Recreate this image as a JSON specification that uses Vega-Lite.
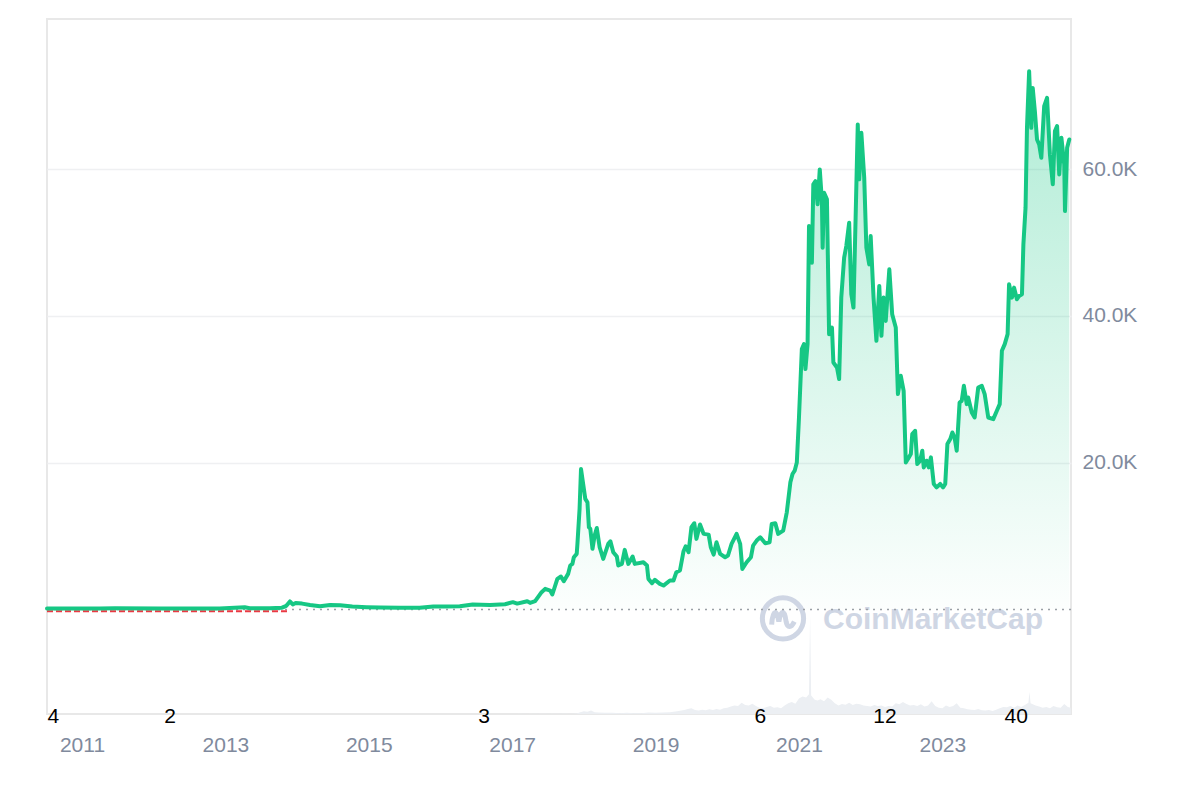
{
  "$schema": "https://vega.github.io/schema/vega-lite/v6.json",
  "width": 1024,
  "height": 695,
  "autosize": {"type": "none"},
  "padding": {"left": 47, "top": 19, "right": 129, "bottom": 86},
  "background": "white",
  "config": {"view": {"stroke": "#e8e8e8", "strokeWidth": 2}, "font": "Liberation Sans"},
  "datasets": {
    "price": [
      {"year": 2010.512, "price": 150}, {"year": 2011.25, "price": 150}, {"year": 2011.46, "price": 160}, {"year": 2012.09, "price": 150},
      {"year": 2012.92, "price": 150}, {"year": 2013.27, "price": 300}, {"year": 2013.34, "price": 180}, {"year": 2013.62, "price": 170},
      {"year": 2013.79, "price": 250}, {"year": 2013.85, "price": 500}, {"year": 2013.90, "price": 1090}, {"year": 2013.94, "price": 700},
      {"year": 2013.98, "price": 880}, {"year": 2014.07, "price": 800}, {"year": 2014.18, "price": 600}, {"year": 2014.32, "price": 450},
      {"year": 2014.46, "price": 620}, {"year": 2014.60, "price": 590}, {"year": 2014.77, "price": 400}, {"year": 2014.97, "price": 310},
      {"year": 2015.16, "price": 260}, {"year": 2015.44, "price": 240}, {"year": 2015.71, "price": 240}, {"year": 2015.90, "price": 420},
      {"year": 2016.06, "price": 400}, {"year": 2016.27, "price": 430}, {"year": 2016.45, "price": 680}, {"year": 2016.69, "price": 610},
      {"year": 2016.90, "price": 720}, {"year": 2017.01, "price": 1000}, {"year": 2017.07, "price": 800}, {"year": 2017.21, "price": 1130},
      {"year": 2017.25, "price": 900}, {"year": 2017.32, "price": 1130}, {"year": 2017.41, "price": 2360}, {"year": 2017.46, "price": 2810},
      {"year": 2017.53, "price": 2580}, {"year": 2017.56, "price": 2040}, {"year": 2017.63, "price": 4170}, {"year": 2017.68, "price": 4490},
      {"year": 2017.72, "price": 3850}, {"year": 2017.78, "price": 4850}, {"year": 2017.81, "price": 5990}, {"year": 2017.84, "price": 6210},
      {"year": 2017.86, "price": 7120}, {"year": 2017.90, "price": 7580}, {"year": 2017.91, "price": 8940}, {"year": 2017.94, "price": 13700},
      {"year": 2017.96, "price": 19140}, {"year": 2017.99, "price": 17100}, {"year": 2018.02, "price": 15060}, {"year": 2018.05, "price": 14600},
      {"year": 2018.07, "price": 11200}, {"year": 2018.09, "price": 10980}, {"year": 2018.12, "price": 8260}, {"year": 2018.15, "price": 10070},
      {"year": 2018.18, "price": 11110}, {"year": 2018.22, "price": 8480}, {"year": 2018.27, "price": 6900}, {"year": 2018.34, "price": 8940},
      {"year": 2018.37, "price": 9290}, {"year": 2018.41, "price": 7800}, {"year": 2018.46, "price": 7210}, {"year": 2018.48, "price": 5990},
      {"year": 2018.53, "price": 6210}, {"year": 2018.57, "price": 8120}, {"year": 2018.62, "price": 6210}, {"year": 2018.68, "price": 7210},
      {"year": 2018.71, "price": 6210}, {"year": 2018.83, "price": 6440}, {"year": 2018.88, "price": 5990}, {"year": 2018.90, "price": 4170},
      {"year": 2018.95, "price": 3580}, {"year": 2018.99, "price": 4040}, {"year": 2019.06, "price": 3490}, {"year": 2019.11, "price": 3260},
      {"year": 2019.20, "price": 3950}, {"year": 2019.25, "price": 3950}, {"year": 2019.29, "price": 5080}, {"year": 2019.34, "price": 5310},
      {"year": 2019.39, "price": 7940}, {"year": 2019.42, "price": 8620}, {"year": 2019.46, "price": 7800}, {"year": 2019.50, "price": 11200},
      {"year": 2019.54, "price": 11750}, {"year": 2019.57, "price": 9620}, {"year": 2019.62, "price": 11570}, {"year": 2019.67, "price": 10300},
      {"year": 2019.74, "price": 10200}, {"year": 2019.77, "price": 8480}, {"year": 2019.81, "price": 7480}, {"year": 2019.85, "price": 9160},
      {"year": 2019.90, "price": 7580}, {"year": 2019.97, "price": 7120}, {"year": 2020.01, "price": 7350}, {"year": 2020.06, "price": 8940},
      {"year": 2020.13, "price": 10300}, {"year": 2020.18, "price": 8940}, {"year": 2020.21, "price": 5530}, {"year": 2020.27, "price": 6440},
      {"year": 2020.33, "price": 7120}, {"year": 2020.36, "price": 8710}, {"year": 2020.41, "price": 9390}, {"year": 2020.46, "price": 9840},
      {"year": 2020.53, "price": 9020}, {"year": 2020.59, "price": 9160}, {"year": 2020.62, "price": 11660}, {"year": 2020.67, "price": 11750},
      {"year": 2020.71, "price": 10300}, {"year": 2020.78, "price": 10750}, {"year": 2020.83, "price": 13240}, {"year": 2020.88, "price": 17320},
      {"year": 2020.91, "price": 18460}, {"year": 2020.94, "price": 18910}, {"year": 2020.97, "price": 20040}, {"year": 2021.00, "price": 26160},
      {"year": 2021.04, "price": 35470}, {"year": 2021.07, "price": 36150}, {"year": 2021.09, "price": 32750}, {"year": 2021.12, "price": 36150},
      {"year": 2021.14, "price": 52240}, {"year": 2021.18, "price": 47250}, {"year": 2021.20, "price": 57920}, {"year": 2021.23, "price": 58370},
      {"year": 2021.26, "price": 55200}, {"year": 2021.29, "price": 59960}, {"year": 2021.32, "price": 55640}, {"year": 2021.33, "price": 49290},
      {"year": 2021.35, "price": 56770}, {"year": 2021.39, "price": 55870}, {"year": 2021.42, "price": 37510}, {"year": 2021.46, "price": 38420},
      {"year": 2021.48, "price": 33650}, {"year": 2021.53, "price": 32970}, {"year": 2021.56, "price": 31390}, {"year": 2021.59, "price": 42490},
      {"year": 2021.63, "price": 47930}, {"year": 2021.66, "price": 49520}, {"year": 2021.70, "price": 52700}, {"year": 2021.73, "price": 42950},
      {"year": 2021.76, "price": 41130}, {"year": 2021.79, "price": 53380}, {"year": 2021.82, "price": 66080}, {"year": 2021.84, "price": 58600},
      {"year": 2021.87, "price": 64950}, {"year": 2021.91, "price": 58830}, {"year": 2021.94, "price": 49290}, {"year": 2021.98, "price": 47020},
      {"year": 2022.00, "price": 50880}, {"year": 2022.04, "price": 42490}, {"year": 2022.08, "price": 36600}, {"year": 2022.12, "price": 44080},
      {"year": 2022.15, "price": 37280}, {"year": 2022.18, "price": 42490}, {"year": 2022.21, "price": 39320}, {"year": 2022.26, "price": 46340},
      {"year": 2022.30, "price": 40230}, {"year": 2022.35, "price": 38420}, {"year": 2022.38, "price": 29350}, {"year": 2022.42, "price": 31840},
      {"year": 2022.46, "price": 29800}, {"year": 2022.49, "price": 20040}, {"year": 2022.52, "price": 20500}, {"year": 2022.56, "price": 21180},
      {"year": 2022.58, "price": 23900}, {"year": 2022.62, "price": 24350}, {"year": 2022.65, "price": 19820}, {"year": 2022.69, "price": 20270},
      {"year": 2022.72, "price": 21630}, {"year": 2022.74, "price": 19360}, {"year": 2022.78, "price": 20270}, {"year": 2022.81, "price": 19360},
      {"year": 2022.84, "price": 20720}, {"year": 2022.88, "price": 17100}, {"year": 2022.92, "price": 16640}, {"year": 2022.97, "price": 17100},
      {"year": 2023.01, "price": 16640}, {"year": 2023.04, "price": 17100}, {"year": 2023.07, "price": 22540}, {"year": 2023.11, "price": 23220},
      {"year": 2023.14, "price": 24120}, {"year": 2023.17, "price": 23440}, {"year": 2023.20, "price": 21630}, {"year": 2023.24, "price": 28200},
      {"year": 2023.27, "price": 28430}, {"year": 2023.30, "price": 30470}, {"year": 2023.34, "price": 27980}, {"year": 2023.36, "price": 28880},
      {"year": 2023.41, "price": 26840}, {"year": 2023.45, "price": 26160}, {"year": 2023.50, "price": 30240}, {"year": 2023.55, "price": 30470},
      {"year": 2023.59, "price": 29350}, {"year": 2023.64, "price": 26160}, {"year": 2023.71, "price": 25940}, {"year": 2023.76, "price": 27070},
      {"year": 2023.80, "price": 27980}, {"year": 2023.83, "price": 35240}, {"year": 2023.87, "price": 36150}, {"year": 2023.91, "price": 37510},
      {"year": 2023.93, "price": 44310}, {"year": 2023.97, "price": 42490}, {"year": 2024.00, "price": 43850}, {"year": 2024.04, "price": 42270},
      {"year": 2024.07, "price": 42720}, {"year": 2024.11, "price": 42950}, {"year": 2024.13, "price": 49750}, {"year": 2024.16, "price": 54740},
      {"year": 2024.18, "price": 65620}, {"year": 2024.21, "price": 73330}, {"year": 2024.24, "price": 65620}, {"year": 2024.26, "price": 71060},
      {"year": 2024.29, "price": 67890}, {"year": 2024.32, "price": 64040}, {"year": 2024.35, "price": 63360}, {"year": 2024.38, "price": 61540},
      {"year": 2024.42, "price": 68570}, {"year": 2024.46, "price": 69700}, {"year": 2024.50, "price": 62000}, {"year": 2024.54, "price": 57920},
      {"year": 2024.57, "price": 65170}, {"year": 2024.60, "price": 65850}, {"year": 2024.63, "price": 59280}, {"year": 2024.66, "price": 64260},
      {"year": 2024.70, "price": 60630}, {"year": 2024.71, "price": 54280}, {"year": 2024.74, "price": 62900}, {"year": 2024.77, "price": 64040}
    ],
    "volume": [
      {"year": 2010.512, "vol": 0}, {"year": 2017.85, "vol": 0.5}, {"year": 2017.90, "vol": 2}, {"year": 2017.95, "vol": 6}, {"year": 2018.00, "vol": 10},
      {"year": 2018.05, "vol": 8}, {"year": 2018.10, "vol": 12}, {"year": 2018.15, "vol": 6}, {"year": 2018.20, "vol": 5}, {"year": 2018.30, "vol": 4},
      {"year": 2018.40, "vol": 4}, {"year": 2018.50, "vol": 3}, {"year": 2018.60, "vol": 4}, {"year": 2018.70, "vol": 3}, {"year": 2018.80, "vol": 3},
      {"year": 2018.90, "vol": 5}, {"year": 2019.00, "vol": 4}, {"year": 2019.10, "vol": 5}, {"year": 2019.20, "vol": 6}, {"year": 2019.30, "vol": 10},
      {"year": 2019.40, "vol": 14}, {"year": 2019.45, "vol": 18}, {"year": 2019.50, "vol": 20}, {"year": 2019.55, "vol": 14}, {"year": 2019.60, "vol": 12},
      {"year": 2019.65, "vol": 15}, {"year": 2019.70, "vol": 13}, {"year": 2019.75, "vol": 17}, {"year": 2019.80, "vol": 14}, {"year": 2019.85, "vol": 18},
      {"year": 2019.90, "vol": 15}, {"year": 2019.95, "vol": 20}, {"year": 2020.00, "vol": 22}, {"year": 2020.05, "vol": 26}, {"year": 2020.10, "vol": 30},
      {"year": 2020.15, "vol": 28}, {"year": 2020.20, "vol": 40}, {"year": 2020.25, "vol": 32}, {"year": 2020.30, "vol": 30}, {"year": 2020.35, "vol": 36},
      {"year": 2020.40, "vol": 28}, {"year": 2020.45, "vol": 22}, {"year": 2020.50, "vol": 20}, {"year": 2020.55, "vol": 25}, {"year": 2020.60, "vol": 28},
      {"year": 2020.65, "vol": 22}, {"year": 2020.70, "vol": 24}, {"year": 2020.75, "vol": 20}, {"year": 2020.80, "vol": 30}, {"year": 2020.85, "vol": 38},
      {"year": 2020.90, "vol": 42}, {"year": 2020.95, "vol": 36}, {"year": 2021.00, "vol": 55}, {"year": 2021.05, "vol": 62}, {"year": 2021.10, "vol": 58},
      {"year": 2021.14, "vol": 70}, {"year": 2021.155, "vol": 350}, {"year": 2021.17, "vol": 65}, {"year": 2021.22, "vol": 50}, {"year": 2021.26, "vol": 48},
      {"year": 2021.30, "vol": 52}, {"year": 2021.35, "vol": 45}, {"year": 2021.40, "vol": 58}, {"year": 2021.45, "vol": 50}, {"year": 2021.50, "vol": 38},
      {"year": 2021.55, "vol": 30}, {"year": 2021.60, "vol": 35}, {"year": 2021.65, "vol": 33}, {"year": 2021.70, "vol": 40}, {"year": 2021.75, "vol": 32},
      {"year": 2021.80, "vol": 36}, {"year": 2021.85, "vol": 34}, {"year": 2021.90, "vol": 30}, {"year": 2021.95, "vol": 28}, {"year": 2022.00, "vol": 26},
      {"year": 2022.05, "vol": 32}, {"year": 2022.10, "vol": 28}, {"year": 2022.15, "vol": 30}, {"year": 2022.20, "vol": 25}, {"year": 2022.25, "vol": 28},
      {"year": 2022.30, "vol": 26}, {"year": 2022.35, "vol": 38}, {"year": 2022.40, "vol": 34}, {"year": 2022.45, "vol": 42}, {"year": 2022.50, "vol": 35},
      {"year": 2022.55, "vol": 30}, {"year": 2022.60, "vol": 32}, {"year": 2022.65, "vol": 28}, {"year": 2022.70, "vol": 34}, {"year": 2022.75, "vol": 26},
      {"year": 2022.80, "vol": 30}, {"year": 2022.85, "vol": 45}, {"year": 2022.90, "vol": 28}, {"year": 2022.95, "vol": 22}, {"year": 2023.00, "vol": 20},
      {"year": 2023.05, "vol": 30}, {"year": 2023.10, "vol": 25}, {"year": 2023.15, "vol": 28}, {"year": 2023.20, "vol": 38}, {"year": 2023.25, "vol": 22},
      {"year": 2023.30, "vol": 20}, {"year": 2023.35, "vol": 17}, {"year": 2023.40, "vol": 15}, {"year": 2023.45, "vol": 14}, {"year": 2023.50, "vol": 18},
      {"year": 2023.55, "vol": 13}, {"year": 2023.60, "vol": 12}, {"year": 2023.65, "vol": 14}, {"year": 2023.70, "vol": 11}, {"year": 2023.75, "vol": 15},
      {"year": 2023.80, "vol": 20}, {"year": 2023.85, "vol": 25}, {"year": 2023.90, "vol": 24}, {"year": 2023.95, "vol": 28}, {"year": 2024.00, "vol": 22},
      {"year": 2024.05, "vol": 30}, {"year": 2024.10, "vol": 25}, {"year": 2024.15, "vol": 32}, {"year": 2024.20, "vol": 40}, {"year": 2024.215, "vol": 78},
      {"year": 2024.23, "vol": 38}, {"year": 2024.30, "vol": 30}, {"year": 2024.35, "vol": 26}, {"year": 2024.40, "vol": 22}, {"year": 2024.45, "vol": 25},
      {"year": 2024.50, "vol": 20}, {"year": 2024.55, "vol": 28}, {"year": 2024.60, "vol": 24}, {"year": 2024.65, "vol": 22}, {"year": 2024.70, "vol": 35},
      {"year": 2024.75, "vol": 25}, {"year": 2024.79, "vol": 22}
    ],
    "redline": [{"year": 2010.512, "price": -250}, {"year": 2013.87, "price": -250}],
    "marks": [
      {"year": 2010.60, "label": "4"}, {"year": 2012.23, "label": "2"}, {"year": 2016.61, "label": "3"},
      {"year": 2020.46, "label": "6"}, {"year": 2022.20, "label": "12"}, {"year": 2024.03, "label": "40"}
    ]
  },
  "resolve": {"scale": {"y": "independent"}},
  "layer": [
    {
      "data": {"name": "volume"},
      "mark": {"type": "area", "color": "#eceff3", "interpolate": "linear"},
      "encoding": {
        "x": {"field": "year", "type": "quantitative", "scale": {"domain": [2010.512, 2024.794], "nice": false, "zero": false},
          "axis": {"values": [2011, 2013, 2015, 2017, 2019, 2021, 2023], "format": "d", "title": null, "domain": false, "ticks": false, "grid": false, "labelColor": "#808a9d", "labelFontSize": 21, "labelPadding": 20, "labelFont": "Liberation Sans"}},
        "y": {"field": "vol", "type": "quantitative", "scale": {"domain": [0, 2450], "nice": false}, "axis": null}
      }
    },
    {
      "layer": [
        {
          "data": {"name": "price"},
          "mark": {"type": "area", "fill": {"gradient": "linear", "x1": 0, "y1": 0, "x2": 0, "y2": 1, "stops": [{"offset": 0, "color": "rgba(22,199,132,0.34)"}, {"offset": 1, "color": "rgba(22,199,132,0.01)"}]}},
          "encoding": {
            "x": {"field": "year", "type": "quantitative", "scale": {"domain": [2010.512, 2024.794], "nice": false, "zero": false},
              "axis": {"values": [2011, 2013, 2015, 2017, 2019, 2021, 2023], "format": "d", "title": null, "domain": false, "ticks": false, "grid": false, "labelColor": "#808a9d", "labelFontSize": 21, "labelPadding": 20, "labelFont": "Liberation Sans"}},
            "y": {"field": "price", "type": "quantitative", "scale": {"domain": [-14240, 80450], "nice": false, "zero": false},
              "axis": {"orient": "right", "values": [20000, 40000, 60000], "labelExpr": "format(datum.value / 1000, '.1f') + 'K'", "title": null, "domain": false, "ticks": false, "grid": true, "gridColor": "#eff0f2", "gridWidth": 1.5, "labelColor": "#808a9d", "labelFontSize": 21, "labelPadding": 11, "labelFont": "Liberation Sans"}},
            "y2": {"datum": 0}
          }
        },
        {
          "data": {"values": [{}]},
          "mark": {"type": "text", "text": "CoinMarketCap", "align": "left", "baseline": "middle", "fontSize": 30, "fontWeight": "bold", "color": "#cfd6e4", "font": "Liberation Sans"},
          "encoding": {
            "x": {"datum": 2021.335, "type": "quantitative", "title": null, "axis": {"values": [2011, 2013, 2015, 2017, 2019, 2021, 2023], "format": "d", "title": null, "domain": false, "ticks": false, "grid": false, "labelColor": "#808a9d", "labelFontSize": 21, "labelPadding": 20, "labelFont": "Liberation Sans"}},
            "y": {"datum": -1500, "type": "quantitative", "title": null, "axis": {"orient": "right", "values": [20000, 40000, 60000], "labelExpr": "format(datum.value / 1000, '.1f') + 'K'", "title": null, "domain": false, "ticks": false, "grid": true, "gridColor": "#eff0f2", "gridWidth": 1.5, "labelColor": "#808a9d", "labelFontSize": 21, "labelPadding": 11, "labelFont": "Liberation Sans"}}
          }
        },
        {
          "data": {"values": [{}]},
          "mark": {"type": "point", "shape": "circle", "filled": false, "color": "#cfd6e4", "strokeWidth": 5, "size": 1700, "opacity": 1},
          "encoding": {
            "x": {"datum": 2020.777, "type": "quantitative", "title": null, "axis": {"values": [2011, 2013, 2015, 2017, 2019, 2021, 2023], "format": "d", "title": null, "domain": false, "ticks": false, "grid": false, "labelColor": "#808a9d", "labelFontSize": 21, "labelPadding": 20, "labelFont": "Liberation Sans"}},
            "y": {"datum": -1224, "type": "quantitative", "title": null, "axis": {"orient": "right", "values": [20000, 40000, 60000], "labelExpr": "format(datum.value / 1000, '.1f') + 'K'", "title": null, "domain": false, "ticks": false, "grid": true, "gridColor": "#eff0f2", "gridWidth": 1.5, "labelColor": "#808a9d", "labelFontSize": 21, "labelPadding": 11, "labelFont": "Liberation Sans"}}
          }
        },
        {
          "data": {"values": [{}]},
          "mark": {"type": "point", "shape": "M-0.55,0.3 C-0.5,-0.45 -0.3,-0.45 -0.2,0.15 C-0.1,-0.45 0.08,-0.45 0.15,0.15 C0.22,0.5 0.4,0.45 0.55,0.15", "filled": false, "color": "#cfd6e4", "strokeWidth": 5, "size": 1700, "opacity": 1},
          "encoding": {
            "x": {"datum": 2020.777, "type": "quantitative", "title": null, "axis": {"values": [2011, 2013, 2015, 2017, 2019, 2021, 2023], "format": "d", "title": null, "domain": false, "ticks": false, "grid": false, "labelColor": "#808a9d", "labelFontSize": 21, "labelPadding": 20, "labelFont": "Liberation Sans"}},
            "y": {"datum": -1224, "type": "quantitative", "title": null, "axis": {"orient": "right", "values": [20000, 40000, 60000], "labelExpr": "format(datum.value / 1000, '.1f') + 'K'", "title": null, "domain": false, "ticks": false, "grid": true, "gridColor": "#eff0f2", "gridWidth": 1.5, "labelColor": "#808a9d", "labelFontSize": 21, "labelPadding": 11, "labelFont": "Liberation Sans"}}
          }
        },
        {
          "data": {"values": [{}]},
          "mark": {"type": "rule", "color": "#9aa0a6", "strokeDash": [2, 5], "strokeWidth": 1.5},
          "encoding": {
            "y": {"datum": 0, "type": "quantitative", "title": null, "axis": {"orient": "right", "values": [20000, 40000, 60000], "labelExpr": "format(datum.value / 1000, '.1f') + 'K'", "title": null, "domain": false, "ticks": false, "grid": true, "gridColor": "#eff0f2", "gridWidth": 1.5, "labelColor": "#808a9d", "labelFontSize": 21, "labelPadding": 11, "labelFont": "Liberation Sans"}}
          }
        },
        {
          "data": {"name": "redline"},
          "mark": {"type": "line", "color": "#ea3943", "strokeDash": [6, 3], "strokeWidth": 2},
          "encoding": {
            "x": {"field": "year", "type": "quantitative", "title": null, "axis": {"values": [2011, 2013, 2015, 2017, 2019, 2021, 2023], "format": "d", "title": null, "domain": false, "ticks": false, "grid": false, "labelColor": "#808a9d", "labelFontSize": 21, "labelPadding": 20, "labelFont": "Liberation Sans"}},
            "y": {"field": "price", "type": "quantitative", "title": null, "axis": {"orient": "right", "values": [20000, 40000, 60000], "labelExpr": "format(datum.value / 1000, '.1f') + 'K'", "title": null, "domain": false, "ticks": false, "grid": true, "gridColor": "#eff0f2", "gridWidth": 1.5, "labelColor": "#808a9d", "labelFontSize": 21, "labelPadding": 11, "labelFont": "Liberation Sans"}}
          }
        },
        {
          "data": {"name": "price"},
          "mark": {"type": "line", "color": "#16c784", "strokeWidth": 4, "strokeJoin": "round", "strokeCap": "round"},
          "encoding": {
            "x": {"field": "year", "type": "quantitative", "title": null, "axis": {"values": [2011, 2013, 2015, 2017, 2019, 2021, 2023], "format": "d", "title": null, "domain": false, "ticks": false, "grid": false, "labelColor": "#808a9d", "labelFontSize": 21, "labelPadding": 20, "labelFont": "Liberation Sans"}},
            "y": {"field": "price", "type": "quantitative", "title": null, "axis": {"orient": "right", "values": [20000, 40000, 60000], "labelExpr": "format(datum.value / 1000, '.1f') + 'K'", "title": null, "domain": false, "ticks": false, "grid": true, "gridColor": "#eff0f2", "gridWidth": 1.5, "labelColor": "#808a9d", "labelFontSize": 21, "labelPadding": 11, "labelFont": "Liberation Sans"}}
          }
        },
        {
          "data": {"name": "marks"},
          "mark": {"type": "text", "align": "center", "baseline": "middle", "fontSize": 21, "color": "#000000", "font": "Liberation Sans"},
          "encoding": {
            "x": {"field": "year", "type": "quantitative", "title": null, "axis": {"values": [2011, 2013, 2015, 2017, 2019, 2021, 2023], "format": "d", "title": null, "domain": false, "ticks": false, "grid": false, "labelColor": "#808a9d", "labelFontSize": 21, "labelPadding": 20, "labelFont": "Liberation Sans"}},
            "y": {"datum": -14600, "type": "quantitative", "title": null, "axis": {"orient": "right", "values": [20000, 40000, 60000], "labelExpr": "format(datum.value / 1000, '.1f') + 'K'", "title": null, "domain": false, "ticks": false, "grid": true, "gridColor": "#eff0f2", "gridWidth": 1.5, "labelColor": "#808a9d", "labelFontSize": 21, "labelPadding": 11, "labelFont": "Liberation Sans"}},
            "text": {"field": "label"}
          }
        }
      ]
    }
  ]
}
